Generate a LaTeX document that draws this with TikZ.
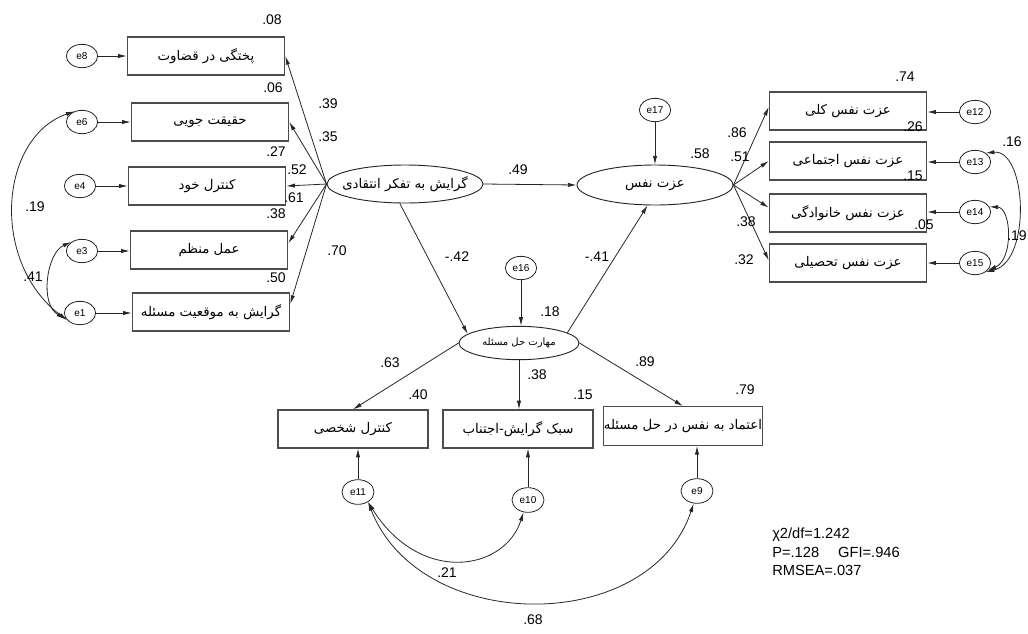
\documentclass[tikz,border=0pt]{standalone}
\usepackage{fontspec}
\setmainfont{Liberation Sans}
\newfontfamily\fa[Script=Arabic]{DejaVu Sans}
\TeXXeTstate=1
\usetikzlibrary{arrows.meta,shapes.geometric}
\begin{document}
\begin{tikzpicture}[x=0.75pt,y=-0.75pt,
  ln/.style={draw=black!85, line width=0.6pt},
  arr/.style={ln, -{Latex[length=6.5pt,width=3.2pt]}},
  darr/.style={ln, {Latex[length=6.5pt,width=3.2pt]}-{Latex[length=6.5pt,width=3.2pt]}},
  obs/.style={draw=black!70, line width=0.9pt, rectangle, inner sep=0pt,
              minimum width=118pt, minimum height=28.5pt, font=\fontsize{10}{11}\selectfont\fa},
  err/.style={draw=black!85, line width=0.6pt, ellipse, inner sep=0pt,
              minimum width=23.5pt, minimum height=17.5pt, font=\fontsize{7.5}{8}\selectfont},
  lat/.style={draw=black!85, line width=0.7pt, ellipse, inner sep=0pt, font=\fa},
  num/.style={inner sep=0pt, font=\fontsize{10.5}{12}\selectfont},
  stat/.style={inner sep=0pt, anchor=west, font=\fontsize{11}{13}\selectfont}
]
\useasboundingbox (0,0) rectangle (1028,633);

% left observed
\node[obs] (b1) at (206,56)  {\beginR پختگی در قضاوت\endR};
\node[obs] (b2) at (210,122) {\beginR حقیقت جویی\endR};
\node[obs] (b3) at (207,186) {\beginR کنترل خود\endR};
\node[obs] (b4) at (209,250) {\beginR عمل منظم\endR};
\node[obs] (b5) at (211,312) {\beginR گرایش به موقعیت مسئله\endR};
\node[err] (e8) at (82,56)  {e8};
\node[err] (e6) at (82,122) {e6};
\node[err] (e4) at (80,186) {e4};
\node[err] (e3) at (82,251) {e3};
\node[err] (e1) at (80,313) {e1};

% latents
\node[lat, minimum width=117pt, minimum height=28.5pt, inner xsep=-13pt, font=\fontsize{10}{11}\selectfont\fa] (L1) at (405,184) {\beginR گرایش به تفکر انتقادی\endR};
\node[lat, minimum width=117pt, minimum height=30pt, font=\fontsize{10}{11}\selectfont\fa] (L2) at (655,185) {\beginR عزت نفس\endR};
\node[lat, minimum width=90pt, minimum height=25pt, font=\fontsize{7.5}{8}\selectfont\fa] (L3) at (519,343) {\beginR مهارت حل مسئله\endR};
\node[err] (e17) at (655,110) {e17};
\node[err] (e16) at (521,268) {e16};

% right observed
\node[obs] (r1) at (848,111) {\beginR عزت نفس کلی\endR};
\node[obs] (r2) at (848,161) {\beginR عزت نفس اجتماعی\endR};
\node[obs] (r3) at (848,213) {\beginR عزت نفس خانوادگی\endR};
\node[obs] (r4) at (848,263) {\beginR عزت نفس تحصیلی\endR};
\node[err] (e12) at (975,112) {e12};
\node[err] (e13) at (975,162) {e13};
\node[err] (e14) at (975,212) {e14};
\node[err] (e15) at (975,263) {e15};

% bottom observed
\node[obs, minimum width=112.5pt] (B1) at (353,429) {\beginR کنترل شخصی\endR};
\node[obs, minimum width=112.5pt] (B2) at (518,429) {\beginR سبک گرایش-اجتناب\endR};
\node[obs, minimum width=114.75pt, minimum height=29pt] (B3) at (683,426) {\beginR اعتماد به نفس در حل مسئله\endR};
\node[err, minimum width=24pt, minimum height=18.5pt] (e11) at (358,492) {e11};
\node[err, minimum width=24pt, minimum height=18.5pt] (e10) at (528,500) {e10};
\node[err, minimum width=24pt, minimum height=18.5pt] (e9)  at (697,491) {e9};

% error arrows
\draw[arr] (e8.east) -- (e8.east -| b1.west);
\draw[arr] (e6.east) -- (e6.east -| b2.west);
\draw[arr] (e4.east) -- (e4.east -| b3.west);
\draw[arr] (e3.east) -- (e3.east -| b4.west);
\draw[arr] (e1.east) -- (e1.east -| b5.west);
\draw[arr] (e12.west) -- (e12.west -| r1.east);
\draw[arr] (e13.west) -- (e13.west -| r2.east);
\draw[arr] (e14.west) -- (e14.west -| r3.east);
\draw[arr] (e15.west) -- (e15.west -| r4.east);
\draw[arr] (e11.north) -- (e11.north |- B1.south);
\draw[arr] (e10.north) -- (e10.north |- B2.south);
\draw[arr] (e9.north) -- (e9.north |- B3.south);
\draw[arr] (e17.south) -- (e17.south |- L2.north);
\draw[arr] (e16.south) -- (e16.south |- L3.north);

% structural paths
\draw[arr] (L1.west) -- (b1.east);
\draw[arr] (L1.west) -- (b2.east);
\draw[arr] (L1.west) -- (b3.east);
\draw[arr] (L1.west) -- ([yshift=5pt]b4.east);
\draw[arr] (L1.west) -- ([yshift=6pt]b5.east);
\draw[arr] (L1.east) -- (L2.west);
\draw[arr] (L1.255) -- (L3.170);
\draw[arr] (L3.12) -- (L2.250);
\draw[arr] (L2.east) -- ([yshift=3pt]r1.west);
\draw[arr] (L2.east) -- (r2.west);
\draw[arr] (L2.east) -- ([yshift=4pt]r3.west);
\draw[arr] (L2.east) -- ([yshift=2pt]r4.west);
\draw[arr] (L3.west) -- (B1.north);
\draw[arr] (L3.south) -- (L3.south |- B2.north);
\draw[arr] (L3.east) -- (B3.north);

% covariances
\draw[darr] (e6.125) .. controls +(-75,26) and +(-78,-59) .. (e1.210);
\draw[darr] (e3.140) .. controls +(-25,11) and +(-26,-13) .. (e1.200);
\draw[darr] (e13.40) .. controls +(41,-4) and +(46,-11) .. (e15.320);
\draw[darr] (e14.20) .. controls +(22,1) and +(26,-11) .. (e15.330);
\draw[darr] (e11.315) .. controls +(52,83) and +(-19,59) .. (e10.250);
\draw[darr] (e11.315) .. controls +(52,133) and +(-44,132) .. (e9.255);

% numbers
\node[num] (n08) at (272,20) {.08};
\node[num] (n06) at (273,88) {.06};
\node[num] (n39) at (328,104) {.39};
\node[num] (n35) at (328,137) {.35};
\node[num] (n27) at (276,152) {.27};
\node[num] (n52) at (297,170) {.52};
\node[num] (n61) at (294,198) {.61};
\node[num] (n38a) at (276,214) {.38};
\node[num] (n70) at (337,251) {.70};
\node[num] (n50) at (276,278) {.50};
\node[num] (n19L) at (35,207) {.19};
\node[num] (n41) at (33,277) {.41};
\node[num] (n49) at (518,170) {.49};
\node[num] (nm42) at (457,257) {-.42};
\node[num] (nm41) at (597,257) {-.41};
\node[num] (n58) at (700,154) {.58};
\node[num] (n86) at (737,133) {.86};
\node[num] (n51) at (740,157) {.51};
\node[num] (n74) at (905,77) {.74};
\node[num] (n26) at (913,127) {.26};
\node[num] (n15a) at (913,176) {.15};
\node[num] (n05) at (924,225) {.05};
\node[num] (n38b) at (746,222) {.38};
\node[num] (n32) at (744,260) {.32};
\node[num] (n16) at (1012,142) {.16};
\node[num, anchor=east] (n19R) at (1027,236) {.19};
\node[num] (n18) at (550,312) {.18};
\node[num] (n63) at (390,363) {.63};
\node[num] (n38c) at (537,375) {.38};
\node[num] (n89) at (645,362) {.89};
\node[num] (n40) at (418,395) {.40};
\node[num] (n15b) at (583,395) {.15};
\node[num] (n79) at (745,390) {.79};
\node[num] (n21) at (447,573) {.21};
\node[num] (n68) at (533,620) {.68};

% fit statistics
\node[stat] (s1) at (772,535) {χ2/df=1.242};
\node[stat] (s2) at (772,552) {P=.128\hspace{1.3em}GFI=.946};
\node[stat] (s3) at (772,570) {RMSEA=.037};
\end{tikzpicture}
\end{document}
